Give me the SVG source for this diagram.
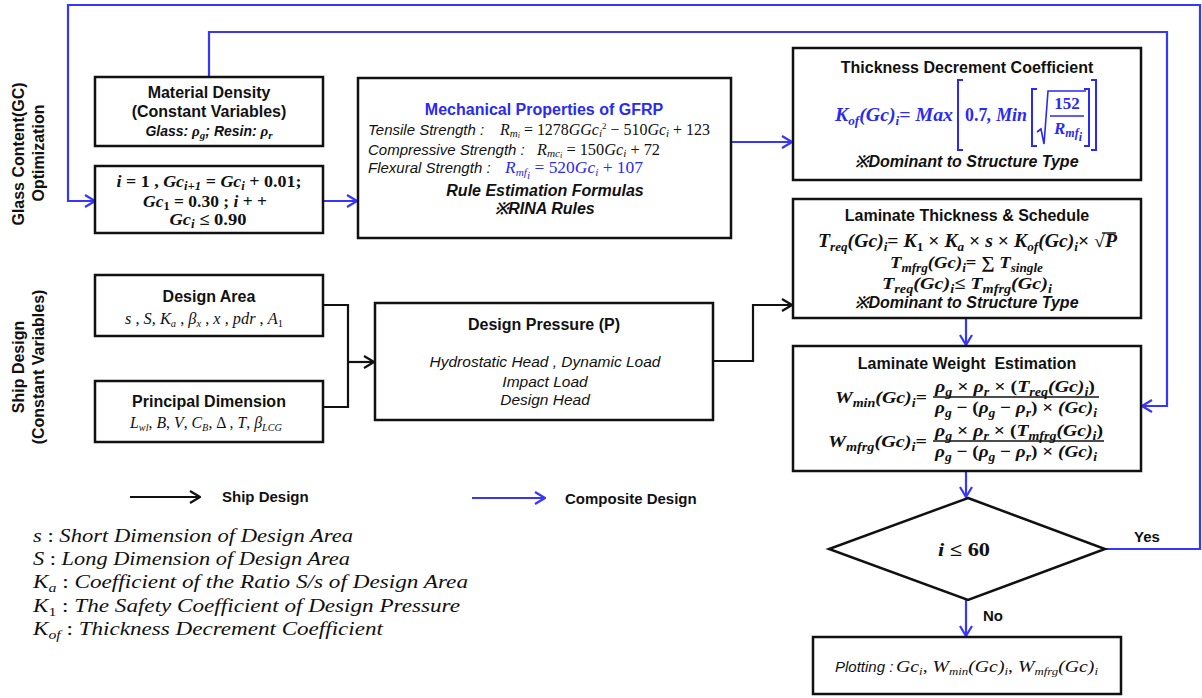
<svg xmlns="http://www.w3.org/2000/svg" width="1202" height="698" viewBox="0 0 1202 698">
<style>
.box{fill:#fff;stroke:#111;stroke-width:2.5}
.t{font-family:"Liberation Sans",Arial,sans-serif;font-weight:bold;font-size:16px;fill:#111}
.bi{font-family:"Liberation Sans",Arial,sans-serif;font-weight:bold;font-style:italic;font-size:16px;fill:#111}
.it{font-family:"Liberation Sans",Arial,sans-serif;font-style:italic;font-size:15px;fill:#111}
.m{font-family:"Liberation Serif","Times New Roman",serif;font-style:italic;font-size:16px;fill:#111}
.mb{font-family:"Liberation Serif","Times New Roman",serif;font-style:italic;font-weight:bold;font-size:17px;fill:#111}
.u{font-style:normal}
.sb{font-size:11px}
.mb .sb{font-size:12px}
.ss{font-size:8px}
.blue{fill:#2a2af2}
.bl{stroke:#111;stroke-width:2.2;fill:none}
.cl{stroke:#3636ff;stroke-width:2.2;fill:none}
.bar{stroke:#111;stroke-width:1.4}
</style>
<defs>
<marker id="ab" markerUnits="userSpaceOnUse" viewBox="0 0 12 14" refX="11" refY="7" markerWidth="12" markerHeight="14" orient="auto"><path d="M1,1 L11,7 L1,13" fill="none" stroke="#111" stroke-width="2.2"/></marker>
<marker id="ac" markerUnits="userSpaceOnUse" viewBox="0 0 12 14" refX="11" refY="7" markerWidth="12" markerHeight="14" orient="auto"><path d="M1,1 L11,7 L1,13" fill="none" stroke="#3636ff" stroke-width="2.2"/></marker>
</defs>
<rect width="1202" height="698" fill="#fff"/>

<g id="side-labels">
<text class="t" transform="translate(24,154) rotate(-90)" text-anchor="middle">Glass Content(GC)</text>
<text class="t" transform="translate(44,153) rotate(-90)" text-anchor="middle">Optimization</text>
<text class="t" transform="translate(24,367) rotate(-90)" text-anchor="middle">Ship Design</text>
<text class="t" transform="translate(44,367) rotate(-90)" text-anchor="middle">(Constant Variables)</text>
</g>

<g id="connectors">
<polyline class="cl" points="1105,549 1200,549 1200,5 68,5 68,201 95,201" marker-end="url(#ac)"/>
<polyline class="cl" points="209,77 209,32 1167,32 1167,406 1142,406" marker-end="url(#ac)"/>
<line class="cl" x1="323" y1="201" x2="357" y2="201" marker-end="url(#ac)"/>
<line class="cl" x1="731" y1="142" x2="792" y2="142" marker-end="url(#ac)"/>
<line class="cl" x1="966" y1="318" x2="966" y2="345" marker-end="url(#ac)"/>
<line class="cl" x1="966" y1="471" x2="966" y2="497" marker-end="url(#ac)"/>
<line class="cl" x1="966" y1="600" x2="966" y2="636" marker-end="url(#ac)"/>
<polyline class="bl" points="323,305 348,305 348,407 323,407"/>
<line class="bl" x1="348" y1="362" x2="374" y2="362" marker-end="url(#ab)"/>
<polyline class="bl" points="713,361 753,361 753,305 792,305" marker-end="url(#ab)"/>
<text class="t" x="1134" y="542" style="font-size:15px">Yes</text>
<text class="t" x="983" y="621" style="font-size:15px">No</text>
</g>

<g id="material-density">
<rect class="box" x="95" y="77" width="228" height="69"/>
<text class="t" x="209" y="98" text-anchor="middle">Material Density</text>
<text class="t" x="209" y="117" text-anchor="middle">(Constant Variables)</text>
<text class="bi" x="209" y="136" text-anchor="middle" style="font-size:14px">Glass: <tspan class="mb" style="font-size:15px">ρ</tspan><tspan class="mb sb" dy="3">g</tspan><tspan dy="-3">; Resin: </tspan><tspan class="mb" style="font-size:15px">ρ</tspan><tspan class="mb sb" dy="3">r</tspan></text>
</g>

<g id="gc-loop">
<rect class="box" x="95" y="166" width="228" height="67"/>
<text class="mb" x="209" y="187" text-anchor="middle" textLength="185" lengthAdjust="spacingAndGlyphs">i<tspan class="u"> = 1 , </tspan>Gc<tspan class="sb" dy="3">i+1</tspan><tspan class="u" dy="-3"> = </tspan>Gc<tspan class="sb" dy="3">i</tspan><tspan class="u" dy="-3"> + 0.01;</tspan></text>
<text class="mb" x="205" y="207" text-anchor="middle" textLength="124" lengthAdjust="spacingAndGlyphs">Gc<tspan class="sb u" dy="3">1</tspan><tspan class="u" dy="-3"> = 0.30 ; </tspan>i<tspan class="u"> + +</tspan></text>
<text class="mb" x="208" y="225" text-anchor="middle" textLength="77" lengthAdjust="spacingAndGlyphs">Gc<tspan class="sb" dy="3">i</tspan><tspan class="u" dy="-3"> ≤ 0.90</tspan></text>
</g>

<g id="mechanical">
<rect class="box" x="358" y="78" width="373" height="160"/>
<text class="t blue" x="544" y="115" text-anchor="middle">Mechanical Properties of GFRP</text>
<text class="it" x="368" y="135">Tensile Strength :</text>
<text class="m" x="500" y="135" textLength="210" lengthAdjust="spacingAndGlyphs">R<tspan class="sb" dy="2">m</tspan><tspan class="ss" dy="1">i</tspan><tspan class="u" dy="-3"> = 1278</tspan>GGc<tspan class="sb" dy="2">i</tspan><tspan class="u" dy="-8" style="font-size:9px">2</tspan><tspan class="u" dy="6"> − 510</tspan>Gc<tspan class="sb" dy="2">i</tspan><tspan class="u" dy="-2"> + 123</tspan></text>
<text class="it" x="368" y="155">Compressive Strength :</text>
<text class="m" x="537" y="155" textLength="123" lengthAdjust="spacingAndGlyphs">R<tspan class="sb" dy="2">mc</tspan><tspan class="ss" dy="1">i</tspan><tspan class="u" dy="-3"> = 150</tspan>Gc<tspan class="sb" dy="2">i</tspan><tspan class="u" dy="-2"> + 72</tspan></text>
<text class="it" x="368" y="173">Flexural Strength :</text>
<text class="m blue" x="505" y="173" textLength="138" lengthAdjust="spacingAndGlyphs" style="font-size:17px">R<tspan class="sb" dy="3">mf</tspan><tspan class="sb" dy="3">i</tspan><tspan class="u" dy="-6"> = 520</tspan>Gc<tspan class="sb" dy="3">i</tspan><tspan class="u" dy="-3"> + 107</tspan></text>
<text class="bi" x="545" y="196" text-anchor="middle">Rule Estimation Formulas</text>
<text class="bi" x="545" y="214" text-anchor="middle">※RINA Rules</text>
</g>

<g id="thickness-coefficient">
<rect class="box" x="793" y="48" width="348" height="132"/>
<text class="t" x="967" y="73" text-anchor="middle">Thickness Decrement Coefficient</text>
<text class="mb blue" x="835" y="121" textLength="118" lengthAdjust="spacingAndGlyphs" style="font-size:18px">K<tspan class="sb" dy="4">of</tspan><tspan dy="-4">(Gc)</tspan><tspan class="sb" dy="4">i</tspan><tspan class="u" dy="-4">= </tspan>Max</text>
<text class="mb blue" x="965" y="121" textLength="62" lengthAdjust="spacingAndGlyphs" style="font-size:18px"><tspan class="u">0.7</tspan>, Min</text>
<text class="mb blue u" x="1067" y="109" text-anchor="middle">152</text>
<text class="mb blue" x="1068" y="134" text-anchor="middle">R<tspan class="sb" dy="3">mf</tspan><tspan class="sb" dy="4">i</tspan></text>
<line x1="1050" y1="116" x2="1084" y2="116" stroke="#2a2af2" stroke-width="1.6"/>
<path d="M963,80 H958 V150 H963 M1037,89 H1032 V146 H1037 M1084,89 H1089 V146 H1084 M1091,80 H1096 V150 H1091" fill="none" stroke="#2a2af2" stroke-width="2"/>
<path d="M1037,132 L1041,129 L1044,144 L1048,91 H1086" fill="none" stroke="#2a2af2" stroke-width="1.6"/>
<text class="bi" x="967" y="167" text-anchor="middle">※Dominant to Structure Type</text>
</g>

<g id="laminate-thickness">
<rect class="box" x="793" y="199" width="348" height="119"/>
<text class="t" x="967" y="221" text-anchor="middle">Laminate Thickness &amp; Schedule</text>
<text class="mb" x="818" y="247" textLength="299" lengthAdjust="spacingAndGlyphs" style="font-size:18px">T<tspan class="sb" dy="4">req</tspan><tspan dy="-4">(Gc)</tspan><tspan class="sb" dy="4">i</tspan><tspan class="u" dy="-4">= </tspan>K<tspan class="sb u" dy="4">1</tspan><tspan class="u" dy="-4"> × </tspan>K<tspan class="sb" dy="4">a</tspan><tspan class="u" dy="-4"> × </tspan>s<tspan class="u"> × </tspan>K<tspan class="sb" dy="4">of</tspan><tspan dy="-4">(Gc)</tspan><tspan class="sb" dy="4">i</tspan><tspan class="u" dy="-4">× √</tspan>P</text>
<line x1="1102" y1="233" x2="1116" y2="233" class="bar"/>
<text class="mb" x="890" y="268" textLength="153" lengthAdjust="spacingAndGlyphs">T<tspan class="sb" dy="4">mfrg</tspan><tspan dy="-4">(Gc)</tspan><tspan class="sb" dy="4">i</tspan><tspan class="u" dy="-4">= ∑ </tspan>T<tspan class="sb" dy="4">single</tspan></text>
<text class="mb" x="882" y="289" textLength="170" lengthAdjust="spacingAndGlyphs">T<tspan class="sb" dy="4">req</tspan><tspan dy="-4">(Gc)</tspan><tspan class="sb" dy="4">i</tspan><tspan class="u" dy="-4">≤ </tspan>T<tspan class="sb" dy="4">mfrg</tspan><tspan dy="-4">(Gc)</tspan><tspan class="sb" dy="4">i</tspan></text>
<text class="bi" x="967" y="308" text-anchor="middle">※Dominant to Structure Type</text>
</g>

<g id="laminate-weight">
<rect class="box" x="793" y="346" width="348" height="125"/>
<text class="t" x="967" y="369" text-anchor="middle" xml:space="preserve">Laminate Weight  Estimation</text>
<text class="mb" x="835" y="403" textLength="92" lengthAdjust="spacingAndGlyphs">W<tspan class="sb" dy="4">min</tspan><tspan dy="-4">(Gc)</tspan><tspan class="sb" dy="4">i</tspan><tspan class="u" dy="-4">=</tspan></text>
<text class="mb" x="935" y="392" textLength="160" lengthAdjust="spacingAndGlyphs">ρ<tspan class="sb" dy="4">g</tspan><tspan class="u" dy="-4"> × </tspan>ρ<tspan class="sb" dy="4">r</tspan><tspan class="u" dy="-4"> × (</tspan>T<tspan class="sb" dy="4">req</tspan><tspan dy="-4">(Gc)</tspan><tspan class="sb" dy="4">i</tspan><tspan class="u" dy="-4">)</tspan></text>
<line class="bar" x1="933" y1="397" x2="1099" y2="397"/>
<text class="mb" x="935" y="413" textLength="162" lengthAdjust="spacingAndGlyphs">ρ<tspan class="sb" dy="4">g</tspan><tspan class="u" dy="-4"> − (</tspan>ρ<tspan class="sb" dy="4">g</tspan><tspan class="u" dy="-4"> − </tspan>ρ<tspan class="sb" dy="4">r</tspan><tspan class="u" dy="-4">) × </tspan>(Gc)<tspan class="sb" dy="4">i</tspan></text>
<text class="mb" x="828" y="447" textLength="99" lengthAdjust="spacingAndGlyphs">W<tspan class="sb" dy="4">mfrg</tspan><tspan dy="-4">(Gc)</tspan><tspan class="sb" dy="4">i</tspan><tspan class="u" dy="-4">=</tspan></text>
<text class="mb" x="935" y="436" textLength="168" lengthAdjust="spacingAndGlyphs">ρ<tspan class="sb" dy="4">g</tspan><tspan class="u" dy="-4"> × </tspan>ρ<tspan class="sb" dy="4">r</tspan><tspan class="u" dy="-4"> × (</tspan>T<tspan class="sb" dy="4">mfrg</tspan><tspan dy="-4">(Gc)</tspan><tspan class="sb" dy="4">i</tspan><tspan class="u" dy="-4">)</tspan></text>
<line class="bar" x1="933" y1="441" x2="1104" y2="441"/>
<text class="mb" x="935" y="457" textLength="162" lengthAdjust="spacingAndGlyphs">ρ<tspan class="sb" dy="4">g</tspan><tspan class="u" dy="-4"> − (</tspan>ρ<tspan class="sb" dy="4">g</tspan><tspan class="u" dy="-4"> − </tspan>ρ<tspan class="sb" dy="4">r</tspan><tspan class="u" dy="-4">) × </tspan>(Gc)<tspan class="sb" dy="4">i</tspan></text>
</g>

<g id="decision">
<polygon points="968,498 1105,549 968,600 829,549" fill="#fff" stroke="#111" stroke-width="2.5"/>
<text class="mb" x="964" y="556" text-anchor="middle" textLength="52" lengthAdjust="spacingAndGlyphs" style="font-size:19px">i<tspan class="u"> ≤ 60</tspan></text>
</g>

<g id="plotting">
<rect class="box" x="813" y="637" width="308" height="57"/>
<text class="it" x="835" y="672">Plotting :</text>
<text class="m" x="896" y="672" textLength="202" lengthAdjust="spacingAndGlyphs" style="font-size:17px">Gc<tspan class="sb" dy="3">i</tspan><tspan class="u" dy="-3">, </tspan>W<tspan class="sb" dy="3">min</tspan><tspan dy="-3">(Gc)</tspan><tspan class="sb" dy="3">i</tspan><tspan class="u" dy="-3">, </tspan>W<tspan class="sb" dy="3">mfrg</tspan><tspan dy="-3">(Gc)</tspan><tspan class="sb" dy="3">i</tspan></text>
</g>

<g id="design-area">
<rect class="box" x="95" y="275" width="228" height="61"/>
<text class="t" x="209" y="302" text-anchor="middle">Design Area</text>
<text class="m" x="125" y="324" textLength="158" lengthAdjust="spacingAndGlyphs" style="font-size:17px">s<tspan class="u"> , </tspan>S<tspan class="u">, </tspan>K<tspan class="sb" dy="3">a</tspan><tspan class="u" dy="-3"> , </tspan>β<tspan class="sb" dy="3">x</tspan><tspan class="u" dy="-3"> , </tspan>x<tspan class="u"> , </tspan>pdr<tspan class="u"> , </tspan>A<tspan class="sb u" dy="3">1</tspan></text>
</g>

<g id="principal-dimension">
<rect class="box" x="95" y="381" width="228" height="61"/>
<text class="t" x="209" y="407" text-anchor="middle">Principal Dimension</text>
<text class="m" x="130" y="428" textLength="152" lengthAdjust="spacingAndGlyphs" style="font-size:17px">L<tspan class="sb" dy="3">wl</tspan><tspan class="u" dy="-3">, </tspan>B<tspan class="u">, </tspan>V<tspan class="u">, </tspan>C<tspan class="sb" dy="3">B</tspan><tspan class="u" dy="-3">, Δ , </tspan>T<tspan class="u">, </tspan>β<tspan class="sb" dy="3">LCG</tspan></text>
</g>

<g id="design-pressure">
<rect class="box" x="375" y="303" width="338" height="117"/>
<text class="t" x="544" y="330" text-anchor="middle">Design Pressure (P)</text>
<text class="it" x="545" y="367" text-anchor="middle" style="font-size:15.5px">Hydrostatic Head , Dynamic Load</text>
<text class="it" x="545" y="387" text-anchor="middle" style="font-size:15.5px">Impact Load</text>
<text class="it" x="545" y="405" text-anchor="middle" style="font-size:15.5px">Design Head</text>
</g>

<g id="legend">
<line class="bl" x1="130" y1="497" x2="200" y2="497" marker-end="url(#ab)"/>
<text class="t" x="222" y="502" style="font-size:15px">Ship Design</text>
<line class="cl" x1="472" y1="498" x2="545" y2="498" marker-end="url(#ac)"/>
<text class="t" x="565" y="504" style="font-size:15px">Composite Design</text>
</g>

<g id="notes">
<text class="m" x="33" y="542" style="font-size:19px" textLength="320" lengthAdjust="spacingAndGlyphs">s<tspan class="u"> : </tspan>Short Dimension of Design Area</text>
<text class="m" x="33" y="565" style="font-size:19px" textLength="317" lengthAdjust="spacingAndGlyphs">S<tspan class="u"> : </tspan>Long Dimension of Design Area</text>
<text class="m" x="33" y="588" style="font-size:19px" textLength="435" lengthAdjust="spacingAndGlyphs">K<tspan dy="4" style="font-size:13px">a</tspan><tspan class="u" dy="-4"> : </tspan>Coefficient of the Ratio S/s of Design Area</text>
<text class="m" x="33" y="612" style="font-size:19px" textLength="427" lengthAdjust="spacingAndGlyphs">K<tspan class="u" dy="4" style="font-size:13px">1</tspan><tspan class="u" dy="-4"> : </tspan>The Safety Coefficient of Design Pressure</text>
<text class="m" x="33" y="635" style="font-size:19px" textLength="350" lengthAdjust="spacingAndGlyphs">K<tspan dy="4" style="font-size:13px">of</tspan><tspan class="u" dy="-4"> : </tspan>Thickness Decrement Coefficient</text>
</g>
</svg>
